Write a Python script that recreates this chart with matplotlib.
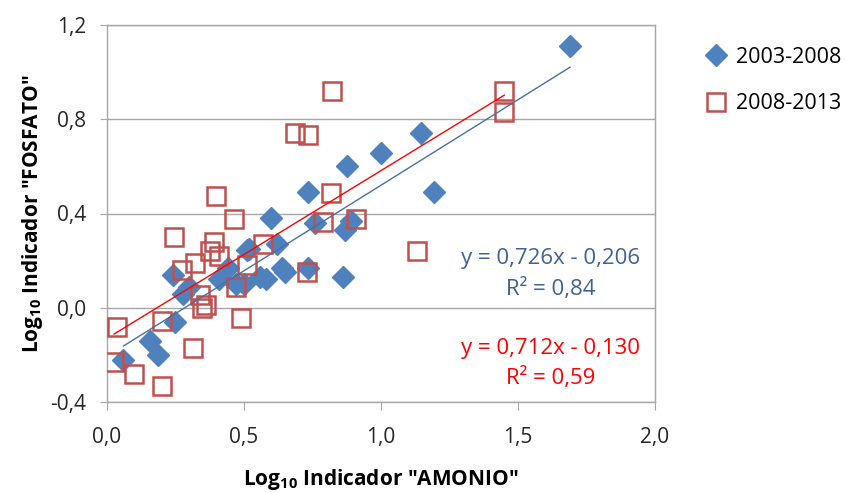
import matplotlib

matplotlib.use("Agg")
import matplotlib.pyplot as plt
import numpy as np

# Log10 values
amonio_0308 = [0.06, 0.157, 0.187, 0.248, 0.242, 0.278, 0.30, 0.41, 0.44, 0.47,
               0.50, 0.51, 0.52, 0.56, 0.58, 0.60, 0.62, 0.64, 0.65, 0.735,
               0.735, 0.76, 0.87, 0.86, 0.875, 0.89, 1.0, 1.145, 1.194, 1.69]
fosfato_0308 = [-0.22, -0.14, -0.20, -0.06, 0.14, 0.06, 0.09, 0.12, 0.17, 0.10,
                0.10, 0.245, 0.25, 0.13, 0.12, 0.38, 0.27, 0.17, 0.15, 0.49,
                0.17, 0.36, 0.33, 0.13, 0.60, 0.37, 0.655, 0.74, 0.49, 1.11]

amonio_0813 = [0.035, 0.026, 0.10, 0.20, 0.20, 0.315, 0.346, 0.36, 0.34, 0.272,
               0.32, 0.245, 0.39, 0.375, 0.41, 0.398, 0.465, 0.47, 0.49, 0.51,
               0.57, 0.686, 0.735, 0.82, 0.816, 0.79, 0.73, 0.91, 1.13, 1.45, 1.45]
fosfato_0813 = [-0.08, -0.23, -0.28, -0.33, -0.055, -0.17, 0.0, 0.01, 0.055, 0.16,
                0.19, 0.30, 0.28, 0.24, 0.22, 0.475, 0.375, 0.09, -0.045, 0.18,
                0.27, 0.74, 0.735, 0.92, 0.486, 0.366, 0.15, 0.376, 0.24, 0.92, 0.83]

# trendline coefficients (slope, intercept) and R2 shown on the chart
fit_0308 = (0.726, -0.206, 0.84)
fit_0813 = (0.712, -0.130, 0.59)

x_ticks = [0.0, 0.5, 1.0, 1.5, 2.0]
y_ticks = [-0.4, 0.0, 0.4, 0.8, 1.2]

plt.rcParams["font.family"] = ["Open Sans", "DejaVu Sans"]
plt.rcParams["mathtext.fontset"] = "custom"
plt.rcParams["mathtext.rm"] = "Open Sans"
plt.rcParams["mathtext.bf"] = "Open Sans:bold"

BLUE = "#4F81BD"
RED = "#C0504D"
GRID = "#A6A6A6"

fig = plt.figure(figsize=(8.46, 4.92), dpi=100)
ax = fig.add_axes([107 / 846, 1 - 402 / 492, 548 / 846, 377 / 492])

ax.plot(amonio_0308, fosfato_0308, linestyle="none", marker="D", ms=11,
        color=BLUE, mec=BLUE, label="2003-2008", zorder=3)
ax.plot(amonio_0813, fosfato_0813, linestyle="none", marker="s", ms=13.5,
        mfc="none", mec=RED, mew=1.8, label="2008-2013", zorder=4)

for xs, (m, b, _), col in [(amonio_0308, fit_0308, "#4A6FA0"),
                           (amonio_0813, fit_0813, "#FF0000")]:
    xx = np.array([min(xs), max(xs)])
    ax.plot(xx, m * xx + b, color=col, lw=1.0, zorder=5)

ax.set_xlim(0, 2)
ax.set_ylim(-0.4, 1.2)
ax.set_xticks(x_ticks)
ax.set_yticks(y_ticks)
ax.set_xticklabels([f"{v:.1f}".replace(".", ",") for v in x_ticks])
ax.set_yticklabels([f"{v:.1f}".replace(".", ",") for v in y_ticks])
ax.tick_params(direction="out", color=GRID, labelsize=15, labelcolor="#262626")
ax.tick_params(axis="x", length=6, pad=12)
ax.tick_params(axis="y", length=5, pad=10)
ax.grid(axis="y", color=GRID, lw=1.0)
ax.set_axisbelow(True)
for sp in ax.spines.values():
    sp.set_color(GRID)
    sp.set_linewidth(1.0)

ax.set_xlabel(r'Log$_{\mathbf{10}}$ Indicador "AMONIO"', fontsize=15,
              fontweight="bold", labelpad=14)
ax.set_ylabel(r'Log$_{\mathbf{10}}$ Indicador "FOSFATO"', fontsize=15,
              fontweight="bold", labelpad=4)

ax.text(1.62, 0.21, f"y = {fit_0308[0]:.3f}x - {-fit_0308[1]:.3f}".replace(".", ","),
        ha="center", va="center", fontsize=16, color="#3F6194")
ax.text(1.62, 0.08, f"R² = {fit_0308[2]:.2f}".replace(".", ","),
        ha="center", va="center", fontsize=16, color="#3F6194")
ax.text(1.62, -0.175, f"y = {fit_0813[0]:.3f}x - {-fit_0813[1]:.3f}".replace(".", ","),
        ha="center", va="center", fontsize=16, color="#FF0000")
ax.text(1.62, -0.30, f"R² = {fit_0813[2]:.2f}".replace(".", ","),
        ha="center", va="center", fontsize=16, color="#FF0000")

fig.legend(loc="upper left", bbox_to_anchor=(697 / 846, 1 - 38 / 492),
           frameon=False, fontsize=15.5, labelspacing=1.2, handlelength=1.0,
           handletextpad=0.4, borderaxespad=0)

fig.savefig("out.png", dpi=100)
